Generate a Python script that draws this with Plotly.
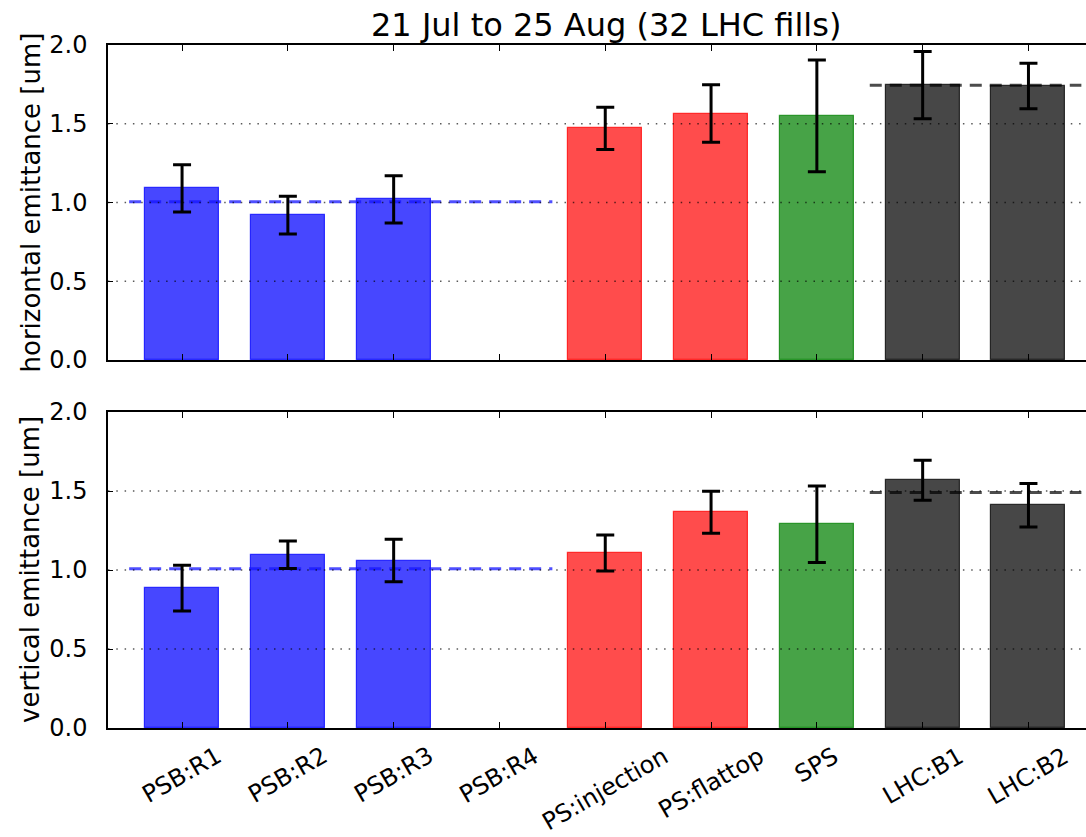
import plotly.graph_objects as go

# ---------------- data ----------------
categories = ["PSB:R1", "PSB:R2", "PSB:R3", "PSB:R4", "PS:injection",
              "PS:flattop", "SPS", "LHC:B1", "LHC:B2"]
bar_colors = ["blue", "blue", "blue", "blue", "red", "red", "green", "black", "black"]

h_values = [1.09, 0.92, 1.02, None, 1.47, 1.565, 1.55, 1.745, 1.74]
h_errors = [0.15, 0.12, 0.15, None, 0.134, 0.183, 0.355, 0.214, 0.144]
v_values = [0.885, 1.097, 1.06, None, 1.108, 1.365, 1.29, 1.568, 1.41]
v_errors = [0.145, 0.087, 0.135, None, 0.114, 0.133, 0.242, 0.127, 0.138]

# group means (dashed lines): PSB rings (index 0..3), LHC beams (index 7..8)
psb_idx = [0, 1, 2, 3]
lhc_idx = [7, 8]
h_psb_mean, h_lhc_mean = 1.005, 1.745
v_psb_mean, v_lhc_mean = 1.008, 1.49

title_text = "21 Jul to 25 Aug (32 LHC fills)"
ylabels = ["horizontal emittance [um]", "vertical emittance [um]"]
y_ticks = [0.0, 0.5, 1.0, 1.5, 2.0]
grid_vals = [0.5, 1.0, 1.5]

# ---------------- styles ----------------
FONT = "DejaVu Sans"
fill_map = {"blue": "rgba(0,0,255,0.72)", "red": "rgba(255,0,0,0.70)",
            "green": "rgba(0,128,0,0.72)", "black": "rgba(0,0,0,0.72)"}
edge_map = {"blue": "rgba(0,0,255,0.75)", "red": "rgba(255,0,0,0.75)",
            "green": "rgba(0,128,0,0.75)", "black": "rgba(0,0,0,0.75)"}

W, H = 1086, 837
ML, MR, MT, MB = 108, 0, 45, 109
plot_h = H - MT - MB
plot_w = W - ML - MR
def py(pix):  # pixel y -> paper y
    return (H - MB - pix) / plot_h
def px(pix):
    return (pix - ML) / plot_w

xs = list(range(len(categories)))
fig = go.Figure()

panels = [(h_values, h_errors, h_psb_mean, h_lhc_mean, "x", "y"),
          (v_values, v_errors, v_psb_mean, v_lhc_mean, "x2", "y2")]

for vals, errs, m_psb, m_lhc, xa, ya in panels:
    fig.add_trace(go.Bar(
        x=xs, y=vals, width=0.7,
        marker=dict(color=[fill_map[c] for c in bar_colors],
                    line=dict(color=[edge_map[c] for c in bar_colors], width=1.2)),
        xaxis=xa, yaxis=ya, showlegend=False))
    fig.add_trace(go.Scatter(
        x=[psb_idx[0] - 0.5, psb_idx[-1] + 0.5], y=[m_psb, m_psb], mode="lines",
        line=dict(color="rgba(20,20,255,0.75)", width=3, dash="12px,8px"),
        xaxis=xa, yaxis=ya, showlegend=False))
    fig.add_trace(go.Scatter(
        x=[lhc_idx[0] - 0.5, lhc_idx[-1] + 0.5], y=[m_lhc, m_lhc], mode="lines",
        line=dict(color="rgba(0,0,0,0.7)", width=3, dash="12px,8px"),
        xaxis=xa, yaxis=ya, showlegend=False))
    fig.add_trace(go.Scatter(
        x=xs, y=vals, mode="markers",
        marker=dict(size=1, color="rgba(0,0,0,0)"),
        error_y=dict(type="data", array=errs, visible=True, color="black",
                     thickness=3, width=9),
        xaxis=xa, yaxis=ya, showlegend=False))
    for g in grid_vals:
        fig.add_shape(type="line", xref=f"{xa} domain", yref=ya,
                      x0=0, x1=1, y0=g, y1=g, layer="above",
                      line=dict(color="rgba(0,0,0,0.65)", width=1.3, dash="1.5px,6.8px"))

xrange = [-0.7, -0.7 + plot_w / 105.8]
xcommon = dict(range=xrange, tickvals=xs, showticklabels=False, ticks="inside",
               ticklen=6, tickwidth=1, tickcolor="black", showline=True,
               linecolor="black", linewidth=1.5, mirror="ticks", showgrid=False,
               zeroline=False, automargin=False)
ycommon = dict(range=[0, 2], tickvals=y_ticks, ticktext=[f"{t:.1f}" for t in y_ticks],
               ticks="inside", ticklen=5, tickwidth=1, tickcolor="black",
               showline=True, linecolor="black", linewidth=1.5, mirror=False,
               showgrid=False, zeroline=False, ticklabelstandoff=14, automargin=False,
               tickfont=dict(family=FONT, size=24, color="black"))

fig.update_layout(
    width=W, height=H,
    margin=dict(l=ML, r=MR, t=MT, b=MB, autoexpand=False),
    paper_bgcolor="white", plot_bgcolor="white",
    font=dict(family=FONT, color="black"),
    bargap=0,
    xaxis=dict(**xcommon, anchor="y", domain=[0, 1]),
    yaxis=dict(**ycommon, anchor="x", domain=[py(360), 1.0]),
    xaxis2=dict(**xcommon, anchor="y2", domain=[0, 1], matches="x"),
    yaxis2=dict(**ycommon, anchor="x2", domain=[0, py(412)]),
)

ann = []
ann.append(dict(text=title_text, xref="paper", yref="paper", x=px(606), y=py(25),
                xanchor="center", yanchor="middle", showarrow=False,
                font=dict(family=FONT, size=32, color="black")))
ann.append(dict(text=ylabels[0], xref="paper", yref="paper", x=px(30), y=py(202.5),
                xanchor="center", yanchor="middle", textangle=-90, showarrow=False,
                font=dict(family=FONT, size=26, color="black")))
ann.append(dict(text=ylabels[1], xref="paper", yref="paper", x=px(30), y=py(570),
                xanchor="center", yanchor="middle", textangle=-90, showarrow=False,
                font=dict(family=FONT, size=26, color="black")))
for i, c in zip(xs, categories):
    ann.append(dict(text=c, xref="x2", yref="paper", x=i, y=py(739),
                    xanchor="center", yanchor="top", textangle=-30, showarrow=False,
                    font=dict(family=FONT, size=24, color="black")))
fig.update_layout(annotations=ann)

fig.write_html("out.html", config={"displayModeBar": False},
               post_script="document.body.style.margin='0';document.body.style.overflow='hidden';")
